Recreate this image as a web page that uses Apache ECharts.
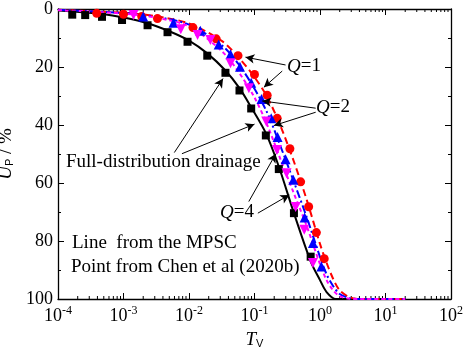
<!DOCTYPE html>
<html><head><meta charset="utf-8">
<script src="https://cdn.jsdelivr.net/npm/echarts@6/dist/echarts.min.js"></script>
<style>html,body{margin:0;padding:0;background:#fff}#c{width:464px;height:352px}</style>
</head><body><div id="c"></div>
<script>
// ---- data ----
const xTicks = [1e-4, 1e-3, 1e-2, 1e-1, 1, 10, 100];
const yTicks = [0, 20, 40, 60, 80, 100];
const minorTicksX = [];
[1e-4, 1e-3, 1e-2, 1e-1, 1, 10].forEach(d => { [2,3,4,5,6,7,8,9].forEach(m => minorTicksX.push(+(d*m).toPrecision(3))); });

// MPSC lines
const lineT_full = [1e-4, 1.7e-4, 4.8e-4, 1e-3, 2.35e-3, 4.9e-3, 0.01, 0.019, 0.036, 0.059, 0.089, 0.149, 0.235, 0.40, 0.72, 1.0, 1.26, 1.74, 3, 20];
const lineU_full = [0.5, 0.9, 1.7, 2.9, 4.9, 7.6, 10.9, 15.3, 21.2, 27.3, 33.9, 42.8, 54.3, 70.4, 87, 93.5, 97.6, 100, 100, 100];
const lineT_q = [1e-4, 1e-3, 3.16e-3, 0.01, 0.0316, 0.0562, 0.1, 0.158, 0.251, 0.398, 0.631, 1.0, 1.26, 1.585, 1.995, 2.82, 3.98, 20];
const lineU_q1 = [0.3, 1.3, 2.5, 5.0, 11.0, 16.5, 23.5, 30.5, 40.5, 52.5, 66, 81, 87.5, 93, 97, 99.4, 100, 100];
const lineU_q2 = [0.3, 1.4, 2.7, 5.4, 12.5, 18.8, 27.5, 36, 47.5, 59.5, 72, 85.5, 91.5, 95.5, 98.3, 99.7, 100, 100];
const lineU_q4 = [0.4, 1.6, 3.0, 6.0, 14.5, 21.5, 30.5, 40.2, 52, 63.5, 75, 88, 93.5, 97, 99, 99.9, 100, 100];

// Chen et al (2020b) points
const ptT_full = [1.65e-4, 2.6e-4, 4.7e-4, 9.5e-4, 2.33e-3, 4.7e-3, 9.5e-3, 0.019, 0.036, 0.059, 0.089, 0.149, 0.235, 0.40, 0.72];
const ptU_full = [1.95, 2.1, 2.7, 3.8, 5.6, 8.0, 11.3, 16.1, 22.0, 28.1, 34.3, 43.6, 55.2, 70.4, 85.4];
const ptT_q1 = [3.9e-4, 1.0e-3, 1.9e-3, 3.3e-3, 0.0115, 0.026, 0.056, 0.10, 0.156, 0.222, 0.347, 0.506, 0.671, 0.88, 1.16];
const ptU_q1 = [1.5, 1.8, 2.6, 3.3, 6.4, 10.3, 16.1, 22.6, 29.7, 37.7, 48.2, 59.6, 68.2, 77.1, 86.1];
const ptT_q2 = [2.0e-3, 5.8e-3, 0.0149, 0.0284, 0.043, 0.060, 0.089, 0.128, 0.180, 0.225, 0.298, 0.391, 0.582, 0.78, 1.05];
const ptU_q2 = [2.6, 4.7, 7.5, 12.2, 15.6, 19.9, 25.4, 31.0, 37.7, 44.1, 51.8, 58.9, 71.9, 80.7, 88.8];
const ptT_q4 = [1.42e-3, 7.5e-3, 0.0135, 0.0212, 0.043, 0.082, 0.151, 0.220, 0.309, 0.425, 0.575, 0.78];
const ptU_q4 = [2.1, 7.0, 9.0, 10.7, 18.7, 27.3, 38.8, 48.6, 56.6, 68.3, 76.1, 87.6];

// annotation arrows [fromT, fromU, toT, toU]
const arrows = [
  [0.298, 19.3, 0.0728, 16.6],
  [0.265, 21.4, 0.139, 27.0],
  [0.859, 34.2, 0.131, 31.7],
  [0.859, 35.6, 0.198, 40.2],
  [5.97e-3, 49.5, 0.0331, 24.0],
  [7.8e-3, 49.9, 0.1, 39.7],
  [0.0818, 66.4, 0.212, 49.9],
  [0.1125, 70.4, 0.340, 64.1]
];

const zip = (a, b) => a.map((v, i) => [v, b[i]]);
const FONT = 'Liberation Serif';

const chart = echarts.init(document.getElementById('c'), null, {renderer: 'canvas'});

const axisCommon = {
  axisLine: {show: true, onZero: false, lineStyle: {color: '#000', width: 1.3}},
  axisTick: {show: true, inside: true, length: 6, lineStyle: {color: '#000', width: 1}},
  splitLine: {show: false}
};

const lineSeries = (name, T, U, color, type) => ({
  name, type: 'line', data: zip(T, U), showSymbol: false, smooth: 0.3,
  lineStyle: {color, width: 2, type}, silent: true, z: 2
});
const scatterSeries = (name, T, U, color, symbol, size, rot) => ({
  name, type: 'scatter', data: zip(T, U), symbol, symbolSize: size, symbolRotate: rot || 0,
  itemStyle: {color, opacity: 1}, silent: true, z: 3
});

const option = {
  animation: false,
  backgroundColor: '#fff',
  grid: {left: 58, right: 13, top: 9, bottom: 53, containLabel: false, outerBoundsMode: 'none'},
  xAxis: [
    Object.assign({}, axisCommon, {
      type: 'log', logBase: 10, min: xTicks[0], max: xTicks[xTicks.length - 1], position: 'bottom',
      axisLabel: {
        margin: 6, color: '#000',
        formatter: v => '{b|10}{s|' + Math.round(Math.log10(v)) + '}',
        rich: {b: {fontFamily: FONT, fontSize: 18, color: '#000', lineHeight: 22}, s: {fontFamily: FONT, fontSize: 12, color: '#000', verticalAlign: 'top'}}
      },
      name: '{i|T}{s|V}', nameLocation: 'middle', nameGap: 31,
      nameTextStyle: {rich: {i: {fontFamily: FONT, fontStyle: 'italic', fontSize: 19, color: '#000'}, s: {fontFamily: 'Liberation Sans', fontSize: 11, color: '#000', verticalAlign: 'bottom', lineHeight: 18}}}
    }),
    Object.assign({}, axisCommon, {
      type: 'log', logBase: 10, min: xTicks[0], max: xTicks[xTicks.length - 1], position: 'top',
      axisLabel: {show: false}
    })
  ],
  yAxis: [
    Object.assign({}, axisCommon, {
      type: 'value', inverse: true, min: yTicks[0], max: yTicks[yTicks.length - 1], interval: 20, position: 'left',
      minorTick: {show: true, splitNumber: 2, length: 3, lineStyle: {color: '#000', width: 1}},
      axisLabel: {margin: 5, color: '#000', fontFamily: FONT, fontSize: 18},
      name: '{i|U}{s|P}{n| / %}', nameLocation: 'middle', nameGap: 37, nameRotate: 90,
      nameTextStyle: {rich: {
        i: {fontFamily: FONT, fontStyle: 'italic', fontSize: 19, color: '#000'},
        s: {fontFamily: 'Liberation Sans', fontSize: 11, color: '#000', verticalAlign: 'bottom', lineHeight: 18},
        n: {fontFamily: FONT, fontSize: 19, color: '#000'}
      }}
    }),
    Object.assign({}, axisCommon, {
      type: 'value', inverse: true, min: yTicks[0], max: yTicks[yTicks.length - 1], interval: 20, position: 'right',
      minorTick: {show: true, splitNumber: 2, length: 3, lineStyle: {color: '#000', width: 1}},
      axisLabel: {show: false}
    })
  ],
  series: [
    {
      type: 'custom', silent: true, data: minorTicksX.map(v => [v, 0]), encode: {x: 0, y: 1}, z: 1,
      renderItem: (params, api) => {
        const v = api.value(0);
        const b = api.coord([v, 100]), t = api.coord([v, 0]);
        return {type: 'group', children: [
          {type: 'line', shape: {x1: b[0], y1: b[1], x2: b[0], y2: b[1] - 3}, style: {stroke: '#000', lineWidth: 1}},
          {type: 'line', shape: {x1: t[0], y1: t[1], x2: t[0], y2: t[1] + 3}, style: {stroke: '#000', lineWidth: 1}}
        ]};
      }
    },
    Object.assign(lineSeries('Full-distribution', lineT_full, lineU_full, '#000000', 'solid'), {
      markLine: {
        silent: true, symbol: ['none', 'arrow'], symbolSize: [7, 9], animation: false,
        label: {show: false}, lineStyle: {color: '#000', width: 1, type: 'solid'},
        emphasis: {disabled: true},
        data: arrows.map(a => [{coord: [a[0], a[1]]}, {coord: [a[2], a[3]]}])
      }
    }),
    lineSeries('Q=1', lineT_q, lineU_q1, '#ff0000', [7, 4]),
    lineSeries('Q=2', lineT_q, lineU_q2, '#0000ff', [8, 3, 2, 3]),
    lineSeries('Q=4', lineT_q, lineU_q4, '#ff00ff', [4, 3]),
    scatterSeries('pFull', ptT_full, ptU_full, '#000000', 'rect', 8),
    scatterSeries('pQ1', ptT_q1, ptU_q1, '#ff0000', 'circle', 9),
    scatterSeries('pQ2', ptT_q2, ptU_q2, '#0000ff', 'triangle', 10),
    scatterSeries('pQ4', ptT_q4, ptU_q4, '#ff00ff', 'triangle', 10, 180)
  ],
  graphic: [
    {type: 'text', left: 287, top: 57, style: {text: '{q|Q}{t|=1}', rich: {q: {fontFamily: FONT, fontStyle: 'italic', fontSize: 19, fill: '#000'}, t: {fontFamily: FONT, fontSize: 19, fill: '#000'}}}},
    {type: 'text', left: 316, top: 98, style: {text: '{q|Q}{t|=2}', rich: {q: {fontFamily: FONT, fontStyle: 'italic', fontSize: 19, fill: '#000'}, t: {fontFamily: FONT, fontSize: 19, fill: '#000'}}}},
    {type: 'text', left: 220, top: 203, style: {text: '{q|Q}{t|=4}', rich: {q: {fontFamily: FONT, fontStyle: 'italic', fontSize: 19, fill: '#000'}, t: {fontFamily: FONT, fontSize: 19, fill: '#000'}}}},
    {type: 'text', left: 66, top: 153, style: {text: 'Full-distribution drainage', fontFamily: FONT, fontSize: 19, fill: '#000'}},
    {type: 'text', left: 72, top: 234, style: {text: 'Line  from the MPSC', fontFamily: FONT, fontSize: 19, fill: '#000'}},
    {type: 'text', left: 71, top: 258, style: {text: 'Point from Chen et al (2020b)', fontFamily: FONT, fontSize: 19, fill: '#000'}}
  ]
};
chart.setOption(option);
</script>
</body></html>
